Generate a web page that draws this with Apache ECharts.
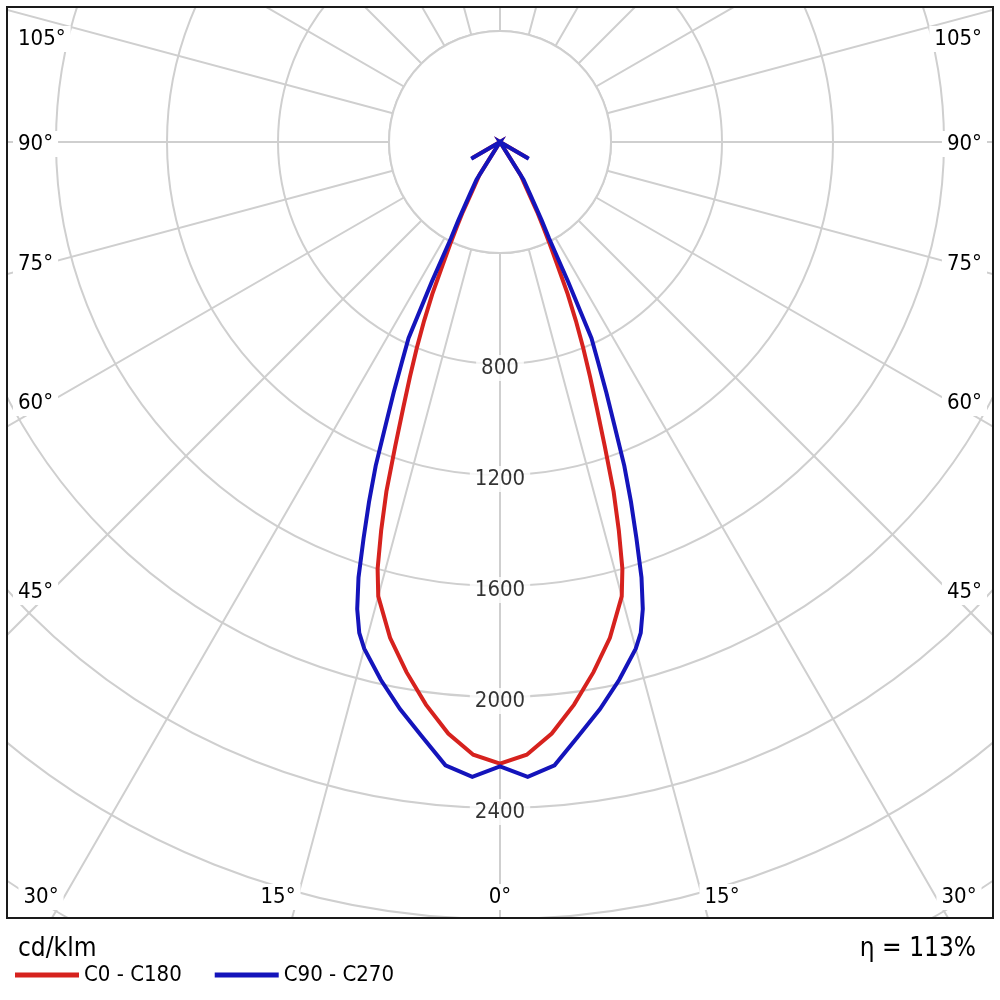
<!DOCTYPE html>
<html>
<head>
<meta charset="utf-8">
<script src="https://cdn.jsdelivr.net/npm/echarts@6/dist/echarts.min.js"></script>
<style>
  html, body { margin: 0; padding: 0; background: #fff; }
  #chart { width: 1000px; height: 1000px; }
</style>
</head>
<body>
<div id="chart"></div>
<script>
// gamma angles (deg from nadir) and luminous intensity in cd/klm
const gammaAngles = [0, 2.5, 5, 7.5, 10, 12.5, 15, 16, 17, 18, 19, 20, 21, 22, 23, 24, 25, 26, 27, 28, 30, 32, 35, 60, 90];
const c0c180 = [2240, 2210, 2140, 2045, 1940, 1830, 1695, 1600, 1465, 1325, 1160, 1020, 905, 800, 700, 600, 490, 410, 340, 285, 185, 140, 0, 115, 0];
const c90c270 = [2250, 2290, 2255, 2160, 2075, 1985, 1890, 1840, 1760, 1650, 1510, 1380, 1250, 1100, 980, 870, 780, 560, 390, 320, 215, 160, 0, 120, 0];

const seriesNames = ['C0 - C180', 'C90 - C270'];
const ringLabels = [800, 1200, 1600, 2000, 2400];
const angleTicks = [0, 15, 30, 45, 60, 75, 90, 105];

const FONT = "'DejaVu Sans Condensed', 'DejaVu Sans', sans-serif";
const GRID = '#cfcfcf';
const cx = 500, cy = 142, outerR = 999, maxCd = 3600;
const scale = outerR / maxCd;

// left half uses angle = gamma, right half angle = 360 - gamma (0 points down)
function buildCurve(vals) {
  const left = gammaAngles.map((g, i) => [vals[i], g]).reverse();
  const right = gammaAngles.map((g, i) => [vals[i], 360 - g]);
  return left.concat(right.slice(1));
}

// where each angle label sits (layout only)
const labelPlace = {
  105: { y: 39, side: true },
  90: { y: 144, side: true },
  75: { y: 264, side: true },
  60: { y: 403, side: true },
  45: { y: 592, side: true },
  30: { x: 459, y: 897 },
  15: { x: 222, y: 897 },
  0: { x: 0, y: 897 }
};

const texts = [];
angleTicks.forEach(a => {
  const p = labelPlace[a];
  const st = {
    text: a + '°', font: '22px ' + FONT, fill: '#000',
    verticalAlign: 'middle', backgroundColor: '#fff', padding: [2, 5]
  };
  const mk = (x, align) => ({ type: 'text', z: 12, x: x, y: p.y, style: Object.assign({}, st, { align: align }) });
  if (p.side) {
    texts.push(mk(13, 'left'));
    texts.push(mk(987, 'right'));
  } else if (p.x === 0) {
    texts.push(mk(cx, 'center'));
  } else {
    texts.push(mk(cx - p.x, 'center'));
    texts.push(mk(cx + p.x, 'center'));
  }
});

const chart = echarts.init(document.getElementById('chart'));
chart.setOption({
  animation: false,
  backgroundColor: '#fff',
  polar: { center: [cx, cy], radius: outerR },
  angleAxis: {
    type: 'value', min: 0, max: 360, interval: 15,
    startAngle: 270, clockwise: true,
    axisLine: { show: false }, axisTick: { show: false }, axisLabel: { show: false },
    splitLine: { show: true, lineStyle: { color: GRID, width: 2 } }
  },
  radiusAxis: {
    type: 'value', min: 0, max: maxCd, interval: 400,
    axisLine: { show: false }, axisTick: { show: false }, axisLabel: { show: false },
    splitLine: { show: true, lineStyle: { color: GRID, width: 2 } }
  },
  legend: {
    left: 15, top: 964, z: 20, padding: 0,
    icon: 'rect', itemWidth: 64, itemHeight: 5, itemGap: 33,
    textStyle: { fontFamily: FONT, fontSize: 22, color: '#000' },
    data: seriesNames
  },
  series: [
    {
      name: seriesNames[0], type: 'line', coordinateSystem: 'polar', z: 3,
      symbol: 'none', data: buildCurve(c0c180),
      itemStyle: { color: '#d6221e' },
      lineStyle: { color: '#d6221e', width: 4, join: 'miter', miterLimit: 10 }
    },
    {
      name: seriesNames[1], type: 'line', coordinateSystem: 'polar', z: 4,
      symbol: 'none', data: buildCurve(c90c270),
      itemStyle: { color: '#1414bb' },
      lineStyle: { color: '#1414bb', width: 4, join: 'miter', miterLimit: 10 }
    },
    {
      type: 'scatter', coordinateSystem: 'polar', z: 5,
      symbolSize: 1, itemStyle: { color: '#fff' },
      data: ringLabels.map(r => [r, 0]),
      label: {
        show: true, position: 'inside', offset: [0, 4],
        formatter: p => String(p.value[0]),
        fontFamily: FONT, fontSize: 22, color: '#000',
        textBorderWidth: 0, backgroundColor: '#fff', padding: [2, 5]
      },
      silent: true
    }
  ],
  graphic: [
    // inner 400 ring: radial lines start here
    { type: 'circle', z: 1, shape: { cx: cx, cy: cy, r: 400 * scale },
      style: { fill: '#fff', stroke: GRID, lineWidth: 2 } },
    // masks outside the frame
    { type: 'rect', z: 10, shape: { x: 0, y: 0, width: 1000, height: 6 }, style: { fill: '#fff' } },
    { type: 'rect', z: 10, shape: { x: 0, y: 0, width: 6, height: 1000 }, style: { fill: '#fff' } },
    { type: 'rect', z: 10, shape: { x: 994, y: 0, width: 6, height: 1000 }, style: { fill: '#fff' } },
    { type: 'rect', z: 10, shape: { x: 0, y: 919, width: 1000, height: 81 }, style: { fill: '#fff' } },
    { type: 'rect', z: 11, shape: { x: 7, y: 7, width: 986, height: 911 },
      style: { fill: 'none', stroke: '#1a1a1a', lineWidth: 2 } },
    ...texts,
    { type: 'text', z: 12, x: 18, y: 949,
      style: { text: 'cd/klm', font: '26px ' + FONT, fill: '#000', verticalAlign: 'middle' } },
    { type: 'text', z: 12, x: 976, y: 949,
      style: { text: 'η = 113%', font: '26px ' + FONT, fill: '#000', align: 'right', verticalAlign: 'middle' } }
  ]
});
</script>
</body>
</html>
